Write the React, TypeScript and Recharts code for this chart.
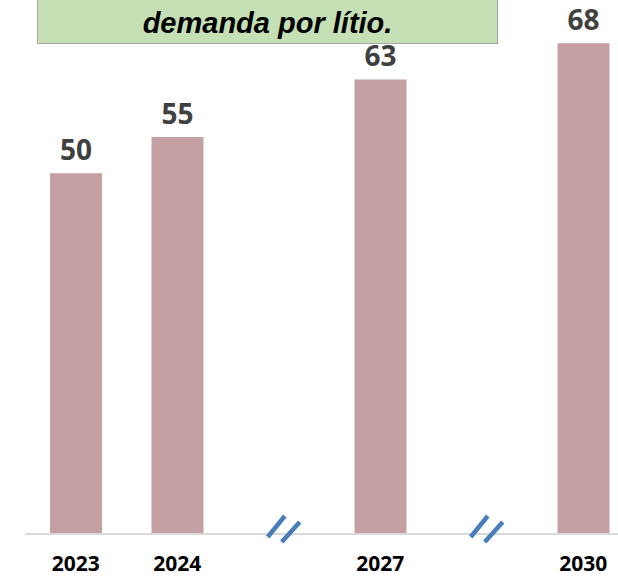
import { Bar, BarChart, LabelList, XAxis, YAxis } from "recharts";

const categories = ["2023", "2024", "break-1", "2027", "break-2", "2030"];
const demanda = [50, 55, null, 63, null, 68];
const titulo = "demanda por lítio.";

const data = categories.map((ano, i) => ({ ano, valor: demanda[i] }));

const Tick = (props: any) => {
  const { x, y, payload } = props;
  const value: string = payload.value;
  if (value.startsWith("break")) {
    // marca de quebra de eixo "//"
    return (
      <g>
        <line x1={x - 11} y1={y + 3} x2={x + 6} y2={y - 18} stroke="#4a7ebb" strokeWidth={4.5} />
        <line x1={x + 3} y1={y + 8} x2={x + 21} y2={y - 12} stroke="#4a7ebb" strokeWidth={4.5} />
      </g>
    );
  }
  return (
    <text
      x={x}
      y={y + 37}
      textAnchor="middle"
      fill="#000"
      fontSize={21}
      fontWeight="bold"
      fontFamily="'Open Sans', sans-serif"
    >
      {value}
    </text>
  );
};

export default function App() {
  return (
    <div
      style={{
        position: "absolute",
        top: 0,
        left: 0,
        width: 618,
        height: 576,
        overflow: "hidden",
        background: "#fff",
      }}
    >
      <BarChart
        width={640}
        height={576}
        data={data}
        margin={{ top: 0, right: 6, left: 25, bottom: 0 }}
      >
        <XAxis
          dataKey="ano"
          height={42}
          tickLine={false}
          tickSize={0}
          tickMargin={0}
          axisLine={{ stroke: "#d9d9d9", strokeWidth: 2 }}
          tick={<Tick />}
          interval={0}
        />
        <YAxis hide domain={[0, 74]} />
        <Bar dataKey="valor" fill="#c49fa3" barSize={52} isAnimationActive={false}>
          <LabelList
            dataKey="valor"
            position="top"
            offset={13}
            fill="#404040"
            fontSize={28}
            fontWeight="bold"
            fontFamily="'Open Sans', sans-serif"
          />
        </Bar>
      </BarChart>
      <div
        style={{
          position: "absolute",
          left: 37,
          top: -20,
          width: 459,
          height: 62,
          background: "#c5e0b4",
          border: "1.5px solid #a6a6a6",
          display: "flex",
          alignItems: "flex-end",
          justifyContent: "center",
          fontFamily: "'Liberation Sans', Arial, sans-serif",
          fontWeight: "bold",
          fontStyle: "italic",
          fontSize: 29,
          color: "#000",
          lineHeight: "39px",
        }}
      >
        {titulo}
      </div>
    </div>
  );
}
